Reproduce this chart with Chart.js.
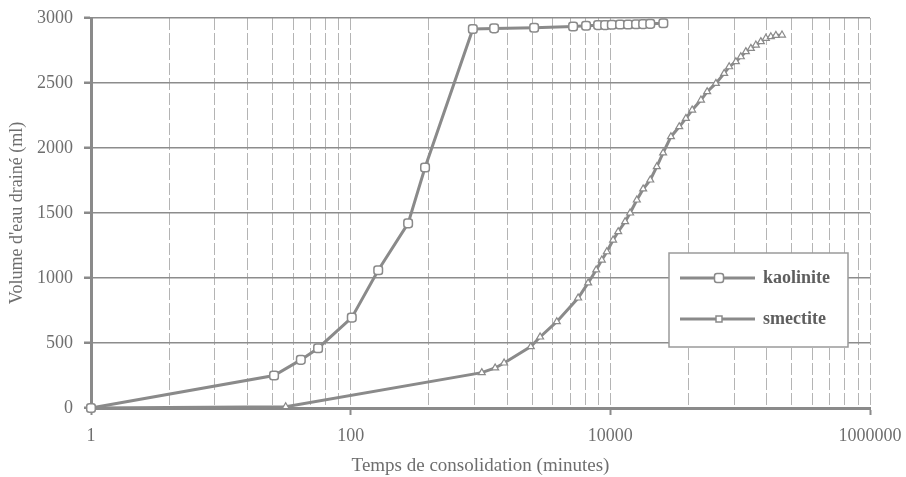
<!DOCTYPE html>
<html>
<head>
<meta charset="utf-8">
<script src="https://cdn.jsdelivr.net/npm/chart.js@4/dist/chart.umd.min.js"></script>
<style>
  body { margin: 0; background: #ffffff; }
  #wrap { width: 906px; height: 477px; }
</style>
</head>
<body>
<div id="wrap"><canvas id="drainChart" width="906" height="477"></canvas></div>
<script>
// data: time in minutes, drained water volume in ml
const kaoliniteTime = [1, 25.7, 41.3, 56.1, 102, 163, 277, 374, 873, 1273, 2588, 5167, 6505, 8050,
  9120, 10270, 11900, 13700, 15800, 17900, 20300, 25600];
const kaoliniteVolume = [0, 250, 370, 460, 695, 1060, 1420, 1850, 2915, 2920, 2925, 2935, 2940, 2945,
  2945, 2948, 2950, 2950, 2952, 2953, 2955, 2960];

const smectiteTime = [1, 31.6, 1023, 1297, 1520, 2440, 2878, 3870, 5650, 6745, 7780, 8600, 9400,
  10500, 11500, 13000, 14200, 16000, 17900, 20300, 22800, 25500, 29300, 33950, 38200, 42700,
  49900, 55700, 65000, 75300, 82300, 92700, 101200, 110600, 120900, 132100, 144300, 157700,
  172300, 188300, 210000];
const smectiteVolume = [0, 10, 272, 308, 346, 472, 546, 664, 846, 962, 1062, 1138, 1202,
  1292, 1356, 1433, 1500, 1600, 1685, 1754, 1856, 1962, 2087, 2164, 2228, 2292,
  2369, 2433, 2497, 2574, 2625, 2664, 2702, 2741, 2766, 2792, 2818, 2844,
  2856, 2866, 2869];

// axis: labelled every two decades (log base 100), minor lines at k^2 of each step
const xMajorTicks = [1, 100, 10000, 1000000];
const xMinorSteps = [4, 9, 16, 25, 36, 49, 64, 81];
const yTicks = [0, 500, 1000, 1500, 2000, 2500, 3000];

const seriesNames = ['kaolinite', 'smectite'];

const grey = '#8a8a8a';
const textGrey = '#6e6e6e';
const serif = "'Liberation Serif', 'DejaVu Serif', serif";

function toPoints(xs, ys) {
  return xs.map((x, i) => ({ x: x, y: ys[i] }));
}

function drawMarker(ctx, style, x, y) {
  ctx.save();
  ctx.fillStyle = '#ffffff';
  ctx.strokeStyle = grey;
  ctx.lineWidth = 1.5;
  ctx.beginPath();
  if (style === 'rectRounded') {
    ctx.roundRect(x - 4.5, y - 4.5, 9, 9, 2.5);
  } else {
    ctx.rect(x - 3, y - 3, 6, 6);
  }
  ctx.fill();
  ctx.stroke();
  ctx.restore();
}

// legend box drawn inside the plot, like the original
const boxLegend = {
  id: 'boxLegend',
  afterDraw(chart) {
    const ctx = chart.ctx;
    const bx = 669, by = 253, bw = 179, bh = 94;
    ctx.save();
    ctx.fillStyle = '#ffffff';
    ctx.fillRect(bx, by, bw, bh);
    ctx.strokeStyle = '#9a9a9a';
    ctx.lineWidth = 1.5;
    ctx.strokeRect(bx, by, bw, bh);
    const rows = [278, 319];
    const markers = ['rectRounded', 'rect'];
    seriesNames.forEach((name, i) => {
      const y = rows[i];
      ctx.strokeStyle = grey;
      ctx.lineWidth = 3;
      ctx.beginPath();
      ctx.moveTo(680, y);
      ctx.lineTo(755, y);
      ctx.stroke();
      drawMarker(ctx, markers[i], 719, y);
      ctx.fillStyle = '#5e5e5e';
      ctx.font = 'bold 18px ' + serif;
      ctx.textBaseline = 'middle';
      ctx.textAlign = 'left';
      ctx.fillText(name, 763, y);
    });
    ctx.restore();
  }
};

const ctx = document.getElementById('drainChart').getContext('2d');

new Chart(ctx, {
  type: 'line',
  data: {
    datasets: [{
      label: seriesNames[0],
      data: toPoints(kaoliniteTime, kaoliniteVolume),
      borderColor: grey,
      borderWidth: 3,
      pointStyle: 'rectRounded',
      pointRadius: 5,
      pointBorderWidth: 1.5,
      pointBackgroundColor: '#ffffff',
      pointBorderColor: grey,
      tension: 0,
      clip: false
    },
    {
      label: seriesNames[1],
      data: toPoints(smectiteTime, smectiteVolume),
      borderColor: grey,
      borderWidth: 3,
      pointStyle: 'triangle',
      pointRadius: 4,
      pointBorderWidth: 1.2,
      pointBackgroundColor: '#ffffff',
      pointBorderColor: grey,
      tension: 0,
      clip: false
    }]
  },
  options: {
    responsive: false,
    animation: false,
    events: [],
    layout: {
      padding: { top: 18, right: 36, bottom: 0, left: 0 }
    },
    scales: {
      x: {
        type: 'logarithmic',
        min: 1,
        max: 1000000,
        afterBuildTicks: (scale) => {
          const ticks = [];
          xMajorTicks.forEach((m, i) => {
            ticks.push({ value: m, major: true });
            if (i < xMajorTicks.length - 1) {
              xMinorSteps.forEach(k => ticks.push({ value: m * k, major: false }));
            }
          });
          scale.ticks = ticks;
        },
        afterFit: (scale) => {
          scale.height = 69;
          scale.paddingLeft = 0;
          scale.paddingRight = 0;
        },
        ticks: {
          autoSkip: false,
          maxRotation: 0,
          padding: 10,
          color: textGrey,
          font: { family: serif, size: 18 },
          callback: (value) => xMajorTicks.includes(value) ? String(value) : ''
        },
        grid: {
          color: '#b4b4b4',
          lineWidth: 1,
          tickLength: 7,
          tickColor: (c) => (c.tick && xMajorTicks.includes(c.tick.value)) ? grey : 'rgba(0,0,0,0)',
          tickWidth: 2
        },
        border: {
          display: true,
          color: grey,
          width: 3,
          dash: [12, 3]
        },
        title: {
          display: true,
          text: 'Temps de consolidation (minutes)',
          color: textGrey,
          font: { family: serif, size: 19 },
          padding: { top: 0, bottom: 0 }
        }
      },
      y: {
        min: 0,
        max: 3000,
        afterBuildTicks: (scale) => {
          scale.ticks = yTicks.map(v => ({ value: v }));
        },
        afterFit: (scale) => {
          scale.width = 91;
          scale.paddingTop = 0;
          scale.paddingBottom = 0;
        },
        ticks: {
          padding: 11,
          color: textGrey,
          font: { family: serif, size: 18 },
          callback: (value) => String(value)
        },
        grid: {
          color: '#8c8c8c',
          lineWidth: 1.5,
          tickLength: 7,
          tickColor: grey,
          tickWidth: 2.5
        },
        border: {
          display: true,
          color: grey,
          width: 3
        },
        title: {
          display: true,
          text: "Volume d'eau drainé (ml)",
          color: textGrey,
          font: { family: serif, size: 18 },
          padding: { top: 6, bottom: 0 }
        }
      }
    },
    plugins: {
      legend: { display: false },
      tooltip: { enabled: false }
    }
  },
  plugins: [boxLegend]
});
</script>
</body>
</html>
